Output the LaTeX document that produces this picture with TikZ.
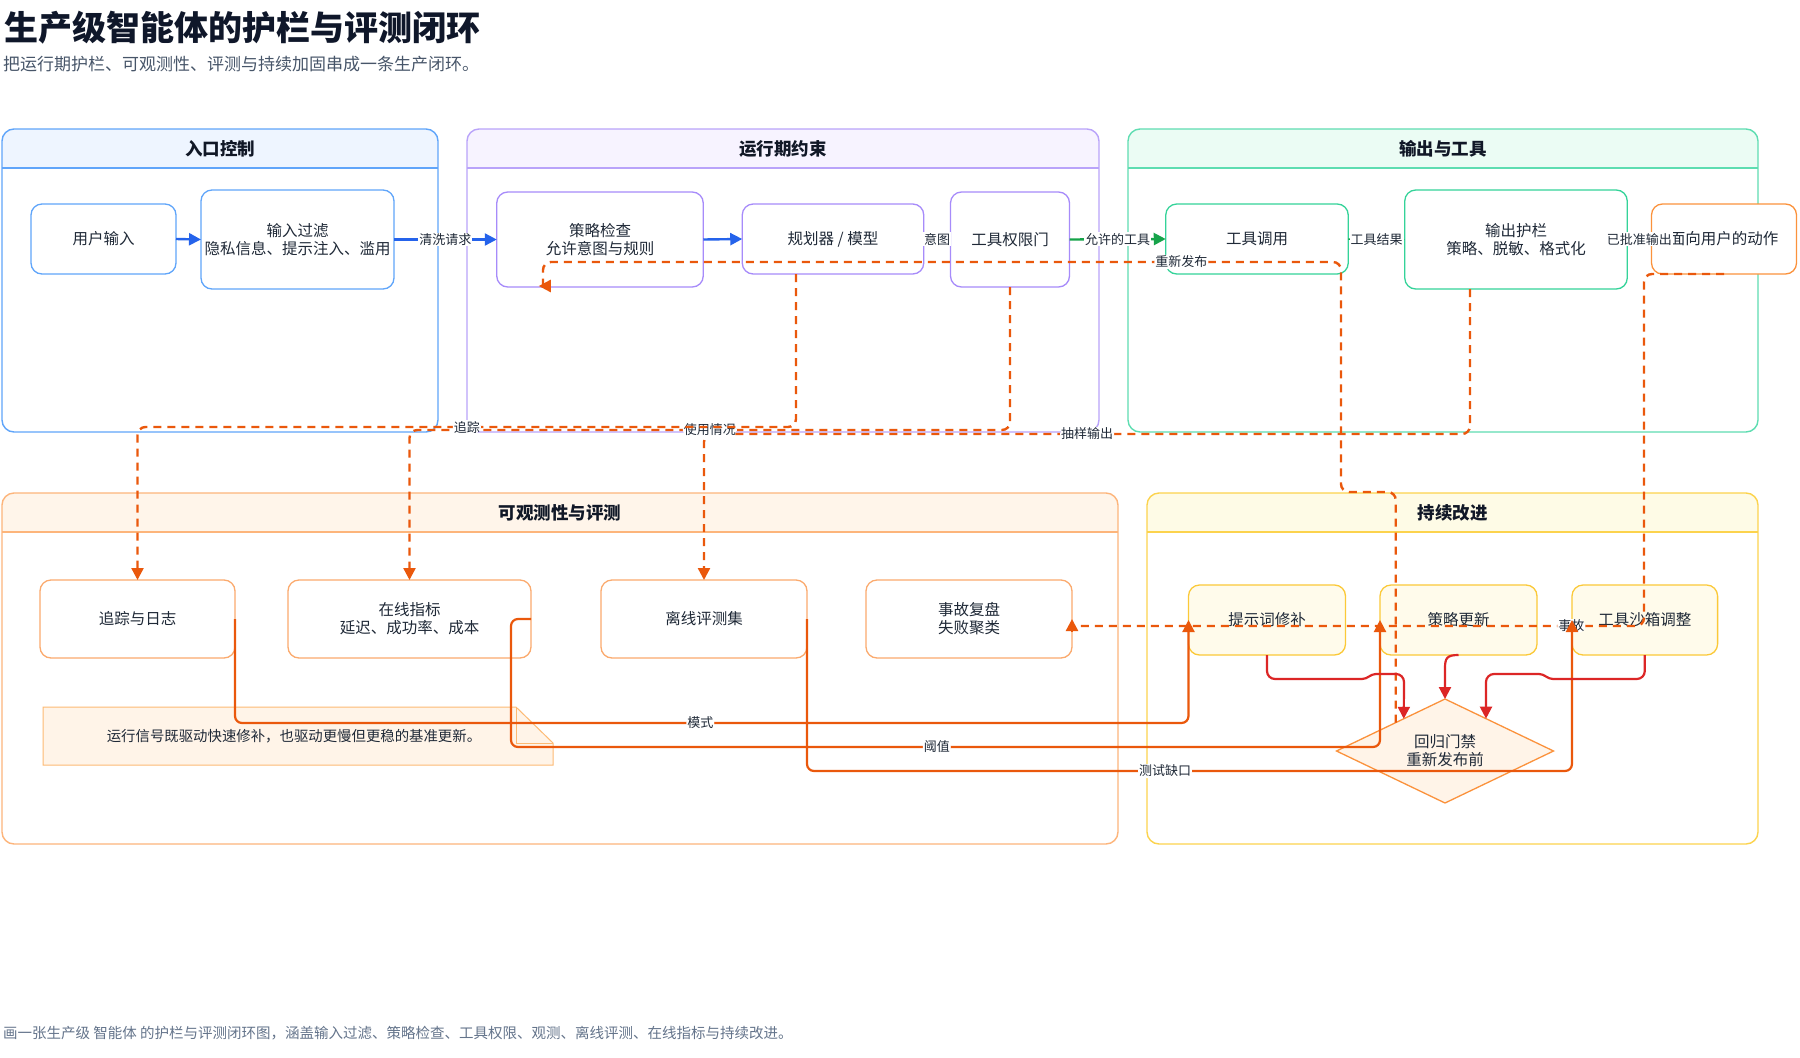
\documentclass[tikz,border=0pt]{standalone}
\usepackage{fontspec}
\setmainfont{Noto Sans CJK SC}
\usetikzlibrary{arrows.meta,shapes.geometric}
\definecolor{ink}{HTML}{1F2937}
\definecolor{titleink}{HTML}{0F172A}
\definecolor{headink}{HTML}{111827}
\definecolor{subink}{HTML}{475569}
\definecolor{footink}{HTML}{64748B}
\definecolor{labelink}{HTML}{1F2937}
\definecolor{gAline}{HTML}{60A5FA}\definecolor{gAfill}{HTML}{EEF5FF}
\definecolor{gBline}{HTML}{B9A3FA}\definecolor{gBfill}{HTML}{F7F3FF}
\definecolor{gCline}{HTML}{5EDDB1}\definecolor{gCfill}{HTML}{EBFCF4}
\definecolor{gDline}{HTML}{FDB57B}\definecolor{gDfill}{HTML}{FFF5EA}
\definecolor{gEline}{HTML}{FCD34D}\definecolor{gEfill}{HTML}{FEFBE6}
\definecolor{nAline}{HTML}{60A5FA}
\definecolor{nBline}{HTML}{A78BFA}
\definecolor{nCline}{HTML}{34D399}
\definecolor{nDline}{HTML}{FBAA6E}
\definecolor{nEline}{HTML}{FBC938}\definecolor{nEfill}{HTML}{FFFBEB}
\definecolor{actline}{HTML}{FB923C}
\definecolor{flowblue}{HTML}{2563EB}
\definecolor{flowgreen}{HTML}{16A34A}
\definecolor{flowgray}{HTML}{9CA3AF}
\definecolor{floworange}{HTML}{EA580C}
\definecolor{flowred}{HTML}{DC2626}
\definecolor{notefill}{HTML}{FFF4E8}
\definecolor{noteline}{HTML}{FDBA74}
\definecolor{gatefill}{HTML}{FFF4E8}
\definecolor{gateline}{HTML}{FB923C}

\newcommand{\fTitle}{\fontsize{34}{39}\selectfont\bfseries}
\newcommand{\fSub}{\fontsize{17}{20}\selectfont}
\newcommand{\fHead}{\fontsize{17.5}{21}\selectfont\bfseries}
\newcommand{\fNode}{\fontsize{15.5}{18}\selectfont}
\newcommand{\fLabel}{\fontsize{13}{15}\selectfont}
\newcommand{\fNote}{\fontsize{14.4}{17}\selectfont}
\newcommand{\fFoot}{\fontsize{14.5}{17}\selectfont}

% name, x1, y1, x2, y2, header-bottom, line colour, header fill, title
\newcommand{\drawgroup}[9]{%
  \begin{scope}
    \clip[rounded corners=12pt] (#2,#3) rectangle (#4,#5);
    \fill[#8] (#2,#3) rectangle (#4,#6);
  \end{scope}
  \node[grpbox, draw=#7, minimum width={#4-#2}, minimum height={#5-#3}] (#1) at ({(#2+#4)/2},{(#3+#5)/2}) {};
  \draw[#7, line width=1.4pt] (#2,#6) -- (#4,#6);
  \node[font=\fHead, text=headink, inner sep=0pt] (#1-title) at ({(#2+#4)/2},{(#3+#6)/2}) {#9};
}

\begin{document}
\begin{tikzpicture}[x=1pt,y=-1pt,
  box/.style={draw, rounded corners=11pt, line width=1.3pt, fill=white, align=center, inner sep=0pt, outer sep=0pt, font=\fNode, text=ink},
  grpbox/.style={rounded corners=12pt, line width=1.4pt, inner sep=0pt, outer sep=0pt},
  elabel/.style={fill=white, inner sep=1pt, font=\fLabel, text=labelink},
  flowB/.style={draw=flowblue, line width=2.4pt, -{Triangle[length=12pt,width=12pt]}},
  flowG/.style={draw=flowgreen, line width=2.4pt, -{Triangle[length=12pt,width=12pt]}},
  flowT/.style={line width=1.5pt, -{Triangle[length=10pt,width=10pt]}},
  flowD/.style={draw=floworange, line width=2.4pt, dash pattern=on 8pt off 6pt, rounded corners=8pt, -{Triangle[length=12pt,width=12pt]}},
  flowDn/.style={draw=floworange, line width=2.4pt, dash pattern=on 8pt off 6pt, rounded corners=8pt},
  tipO/.style={draw=floworange, line width=2.4pt, -{Triangle[length=12pt,width=12pt]}},
  flowO/.style={draw=floworange, line width=2.2pt, rounded corners=7pt, -{Triangle[length=12pt,width=12pt]}},
  flowR/.style={draw=flowred, line width=2.2pt, -{Triangle[length=12pt,width=12pt]}}
]
\useasboundingbox (0,0) rectangle (1800,1058);
\fill[white] (0,0) rectangle (1800,1058);

% ---- titles ----
\node[anchor=west, inner sep=0pt, font=\fTitle, text=titleink] (title) at (4,28) {生产级智能体的护栏与评测闭环};
\node[anchor=west, inner sep=0pt, font=\fSub, text=subink] (subtitle) at (3,64) {把运行期护栏、可观测性、评测与持续加固串成一条生产闭环。};
\node[anchor=west, inner sep=0pt, font=\fFoot, text=footink] (footer) at (3,1033) {画一张生产级 智能体 的护栏与评测闭环图，涵盖输入过滤、策略检查、工具权限、观测、离线评测、在线指标与持续改进。};

% ---- groups ----
\drawgroup{gA}{2}{129}{438}{432}{168}{gAline}{gAfill}{入口控制}
\drawgroup{gB}{467}{129}{1099}{432}{168}{gBline}{gBfill}{运行期约束}
\drawgroup{gC}{1128}{129}{1758}{432}{168}{gCline}{gCfill}{输出与工具}
\drawgroup{gD}{2}{493}{1118}{844}{532}{gDline}{gDfill}{可观测性与评测}
\drawgroup{gE}{1147}{493}{1758}{844}{532}{gEline}{gEfill}{持续改进}

% ---- note ----
\fill[notefill] (43,707) -- (516,707) -- (553,743) -- (553,765) -- (43,765) -- cycle;
\draw[noteline, line width=1pt] (43,707) -- (516,707) -- (553,743) -- (553,765) -- (43,765) -- cycle;
\draw[noteline, line width=1pt] (516,707) -- (516,743) -- (553,743);
\node[font=\fNote, text=ink, inner sep=0pt] (note) at (294,736) {运行信号既驱动快速修补，也驱动更慢但更稳的基准更新。};

% ---- nodes ----
\node[box, draw=nAline, minimum width=145, minimum height=70] (user) at (103.5,239) {用户输入};
\node[box, draw=nAline, minimum width=193, minimum height=99] (filter) at (297.5,239.5) {输入过滤\\隐私信息、提示注入、滥用};
\node[box, draw=nBline, minimum width=206.5, minimum height=95] (policy) at (600,239.5) {策略检查\\允许意图与规则};
\node[box, draw=nBline, minimum width=181.5, minimum height=70] (planner) at (833,239) {规划器 / 模型};
\node[box, draw=nBline, minimum width=119, minimum height=95] (gate) at (1010,239.5) {工具权限门};
\node[box, draw=nCline, minimum width=182.5, minimum height=70] (toolcall) at (1257,239) {工具调用};
\node[box, draw=nCline, minimum width=222.5, minimum height=99] (outguard) at (1516,239.5) {输出护栏\\策略、脱敏、格式化};
\node[box, draw=actline, minimum width=145, minimum height=70] (action) at (1724,239) {面向用户的动作};

\node[box, draw=nDline, minimum width=195, minimum height=78] (trace) at (137.5,619) {追踪与日志};
\node[box, draw=nDline, minimum width=243, minimum height=78] (online) at (409.5,619) {在线指标\\延迟、成功率、成本};
\node[box, draw=nDline, minimum width=206, minimum height=78] (offline) at (704,619) {离线评测集};
\node[box, draw=nDline, minimum width=206, minimum height=78] (incident) at (969,619) {事故复盘\\失败聚类};

\node[box, draw=nEline, fill=nEfill, minimum width=157, minimum height=70] (fix) at (1267,620) {提示词修补};
\node[box, draw=nEline, fill=nEfill, minimum width=157, minimum height=70] (polupd) at (1458.5,620) {策略更新};
\node[box, draw=nEline, fill=nEfill, minimum width=145.6, minimum height=70] (sandbox) at (1644.8,620) {工具沙箱调整};
\node[diamond, draw=gateline, fill=gatefill, line width=1.3pt, minimum width=217, minimum height=104, aspect=2, inner sep=0pt, outer sep=0pt, align=center, font=\fNode, text=ink] (regate) at (1445,751) {回归门禁\\重新发布前};

% ---- main flow ----
\draw[flowB] (user.east) -- (filter.west);
\draw[flowB] (filter.east) -- node[elabel]{清洗请求} (policy.west);
\draw[flowB] (policy.east) -- (planner.west);
\draw[flowT, draw=flowgray] (planner.east) -- node[elabel]{意图} (gate.west);
\draw[flowG] (gate.east) -- node[elabel]{允许的工具} (toolcall.west);
\draw[flowT, draw=flowgreen] (toolcall.east) -- node[elabel]{工具结果} (outguard.west);
\draw[flowT, draw=flowgreen] (outguard.east) -- node[elabel]{已批准输出} (action.west);

% ---- dashed signals ----
\draw[flowD] ([xshift=-46pt]outguard.south) -- ++(0,145) -| node[elabel,pos=0.25]{抽样输出} (offline.north);
\draw[flowD] (gate.south) -- ++(0,143) -| node[elabel,pos=0.25]{使用情况} (online.north);
\draw[flowD] ([xshift=-37pt]planner.south) -- ++(0,153) -| node[elabel,pos=0.25]{追踪} (trace.north);
\draw[flowDn] ([xshift=5pt,yshift=2.4pt]regate.north west) |- (1341,492) |- node[elabel,pos=0.6]{重新发布} (543,262) -- (543,284);
\draw[tipO] ([shift={(54pt,1pt)}]policy.south west) -- ([shift={(42pt,1pt)}]policy.south west);
\draw[flowDn] (action.south) -| (1644,626) -- node[elabel,pos=0.127]{事故} ([yshift=-7pt]incident.east);
\draw[tipO] ([yshift=-13pt]incident.east) -- (incident.east);

% ---- solid feedback ----
\draw[flowO] (offline.east) -- ++(0,152) -| node[elabel,pos=0.234]{测试缺口} (sandbox.west);
\draw[flowO] (online.east) -- ++(-20,0) -- ++(0,128) -| node[elabel,pos=0.245]{阈值} (polupd.west);
\draw[flowO] (trace.east) -- ++(0,104) -| node[elabel,pos=0.244]{模式} (fix.west);

% ---- into regression gate ----
\draw[flowR] (fix.south) -- ++(0,16) to[out=-90,in=180] ++(8,8) -- (1362,679) to[out=0,in=180] (1376,674) -- (1396,674) to[out=0,in=90] (1404,682) -- ([xshift=13pt,yshift=6.2pt]regate.north west);
\draw[flowR] (polupd.south) .. controls (1447,655) and (1445,658) .. (1445,668) -- (regate.north);
\draw[flowR] (sandbox.south) -- ++(0,16) to[out=-90,in=0] ++(-8,8) -- (1553,679) to[out=180,in=0] (1539,674) -- (1494,674) to[out=180,in=90] (1486,682) -- ([xshift=-13.25pt,yshift=6.35pt]regate.north east);
\end{tikzpicture}
\end{document}
